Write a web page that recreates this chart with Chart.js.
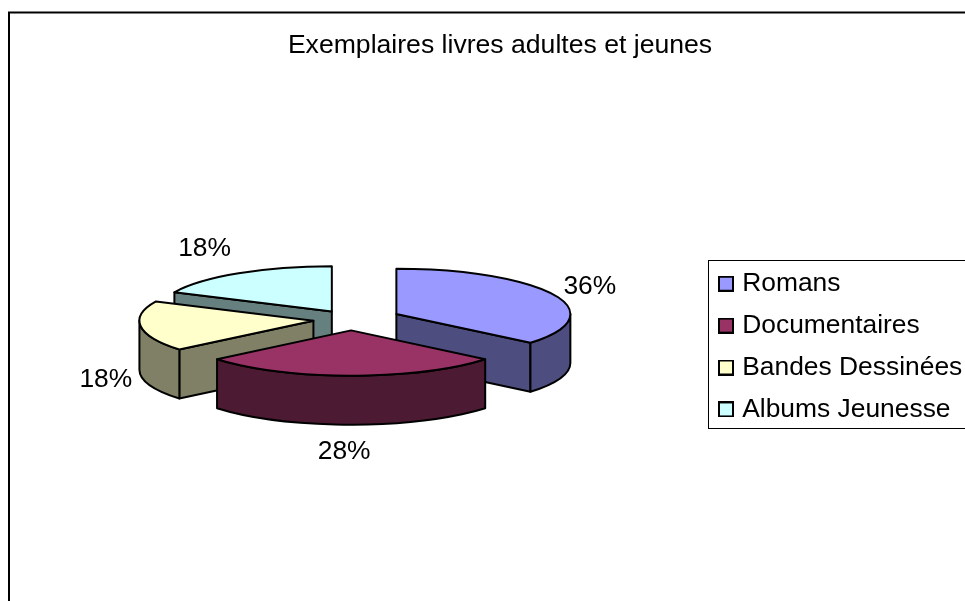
<!DOCTYPE html>
<html>
<head>
<meta charset="utf-8">
<title>Exemplaires livres adultes et jeunes</title>
<script src="https://cdn.jsdelivr.net/npm/chart.js@4"></script>
<style>
    html, body { margin: 0; padding: 0; background: #fff; overflow: hidden; }
    canvas { display: block; }
</style>
</head>
<body>
<canvas id="pieChart" width="965" height="601"></canvas>
<script>
const chartTitle = "Exemplaires livres adultes et jeunes";
const categories = ["Romans", "Documentaires", "Bandes Dessinées", "Albums Jeunesse"];
const percents = [36, 28, 18, 18];

const topColors = ["#9999FF", "#993366", "#FFFFCC", "#CCFFFF"];
const sideColors = ["#4D4D80", "#4D1A33", "#808066", "#668080"];

// how far each slice is pulled out, and where its label sits from the slice edge
const explode = [50, 42, 38, 36];
const labelShift = [[36, -8], [-7, 27], [-35, 4], [-34, -25]];

const squash = 0.26;
const depth = 49;
const font = "'Liberation Sans', Arial, sans-serif";

function makeSwatch(color) {
    const c = document.createElement("canvas");
    c.width = 16;
    c.height = 16;
    const g = c.getContext("2d");
    g.fillStyle = color;
    g.fillRect(0, 0, 16, 16);
    g.strokeStyle = "#000";
    g.lineWidth = 2;
    g.strokeRect(1, 1, 14, 14);
    return c;
}

function sliceCenter(arc, i) {
    const mid = (arc.startAngle + arc.endAngle) / 2;
    return {
        x: arc.x + Math.cos(mid) * explode[i],
        y: arc.y + Math.sin(mid) * explode[i] * squash,
        mid: mid
    };
}

function paint(ctx, color) {
    ctx.fillStyle = color;
    ctx.fill();
    ctx.stroke();
}

function radialWall(ctx, c, r, angle, color) {
    const px = c.x + Math.cos(angle) * r;
    const py = c.y + Math.sin(angle) * r * squash;
    ctx.beginPath();
    ctx.moveTo(c.x, c.y);
    ctx.lineTo(px, py);
    ctx.lineTo(px, py + depth);
    ctx.lineTo(c.x, c.y + depth);
    ctx.closePath();
    paint(ctx, color);
}

const pie3d = {
    id: "pie3d",
    afterLayout(chart) {
        // title and legend do not sit where the layout would put them
        chart.titleBlock.left += 33;
        chart.legend.left = 707.5;
        chart.legend.top = 255;
    },
    beforeDraw(chart) {
        const ctx = chart.ctx;
        ctx.save();
        ctx.strokeStyle = "#000";
        ctx.lineWidth = 2;
        ctx.strokeRect(9, 12.5, 1000, 700);
        ctx.lineWidth = 1;
        ctx.strokeRect(708.5, 260.5, 300, 168);
        ctx.restore();
    },
    beforeDatasetsDraw(chart) {
        const ctx = chart.ctx;
        const arcs = chart.getDatasetMeta(0).data;
        const order = arcs.map((a, i) => i).sort((a, b) => {
            return Math.sin(sliceCenter(arcs[a], a).mid) - Math.sin(sliceCenter(arcs[b], b).mid);
        });

        ctx.save();
        ctx.strokeStyle = "#000";
        ctx.lineWidth = 2;
        ctx.lineJoin = "round";

        order.forEach(i => {
            const arc = arcs[i];
            const c = sliceCenter(arc, i);
            const r = arc.outerRadius;
            const start = arc.startAngle;
            const end = arc.endAngle;

            // walls that face the viewer
            if (Math.cos(start) < 0) radialWall(ctx, c, r, start, sideColors[i]);
            if (Math.cos(end) > 0) radialWall(ctx, c, r, end, sideColors[i]);

            const a0 = Math.max(start, 0);
            const a1 = Math.min(end, Math.PI);
            if (a0 < a1) {
                ctx.beginPath();
                ctx.ellipse(c.x, c.y, r, r * squash, 0, a0, a1);
                ctx.ellipse(c.x, c.y + depth, r, r * squash, 0, a1, a0, true);
                ctx.closePath();
                paint(ctx, sideColors[i]);
            }

            // top face comes from the library arc, flattened
            ctx.save();
            ctx.translate(c.x, c.y);
            ctx.scale(1, squash);
            ctx.translate(-arc.x, -arc.y);
            arc.draw(ctx);
            ctx.restore();

            ctx.beginPath();
            ctx.moveTo(c.x, c.y);
            ctx.ellipse(c.x, c.y, r, r * squash, 0, start, end);
            ctx.closePath();
            ctx.stroke();
        });
        ctx.restore();
        return false;
    },
    afterDraw(chart) {
        const ctx = chart.ctx;
        const arcs = chart.getDatasetMeta(0).data;
        ctx.save();
        ctx.fillStyle = "#000";
        ctx.font = "26.4px " + font;
        ctx.textAlign = "center";
        ctx.textBaseline = "middle";
        arcs.forEach((arc, i) => {
            const c = sliceCenter(arc, i);
            const front = Math.sin(c.mid) > 0 ? depth : 0;
            const x = c.x + Math.cos(c.mid) * arc.outerRadius + labelShift[i][0];
            const y = c.y + Math.sin(c.mid) * arc.outerRadius * squash + front + labelShift[i][1];
            ctx.fillText(percents[i] + "%", x, y);
        });
        ctx.restore();
    }
};

const ctx = document.getElementById("pieChart").getContext("2d");

new Chart(ctx, {
    type: "pie",
    data: {
        labels: categories,
        datasets: [{
            data: percents,
            backgroundColor: topColors,
            borderWidth: 0
        }]
    },
    options: {
        responsive: false,
        animation: false,
        radius: 174,
        layout: { padding: { top: 0, right: 0, bottom: 24, left: 2 } },
        plugins: {
            title: {
                display: true,
                text: chartTitle,
                color: "#000",
                font: { family: font, size: 26.6, weight: "normal" },
                padding: { top: 30, bottom: 0 }
            },
            legend: {
                position: "right",
                align: "start",
                labels: {
                    color: "#000",
                    font: { family: font, size: 26.4 },
                    padding: 15.5,
                    usePointStyle: true,
                    pointStyleWidth: 6,
                    generateLabels() {
                        return categories.map((text, i) => ({
                            text: text,
                            fillStyle: topColors[i],
                            strokeStyle: "#000",
                            lineWidth: 0,
                            pointStyle: makeSwatch(topColors[i]),
                            index: i
                        }));
                    }
                }
            },
            tooltip: { enabled: false }
        }
    },
    plugins: [pie3d]
});
</script>
</body>
</html>
